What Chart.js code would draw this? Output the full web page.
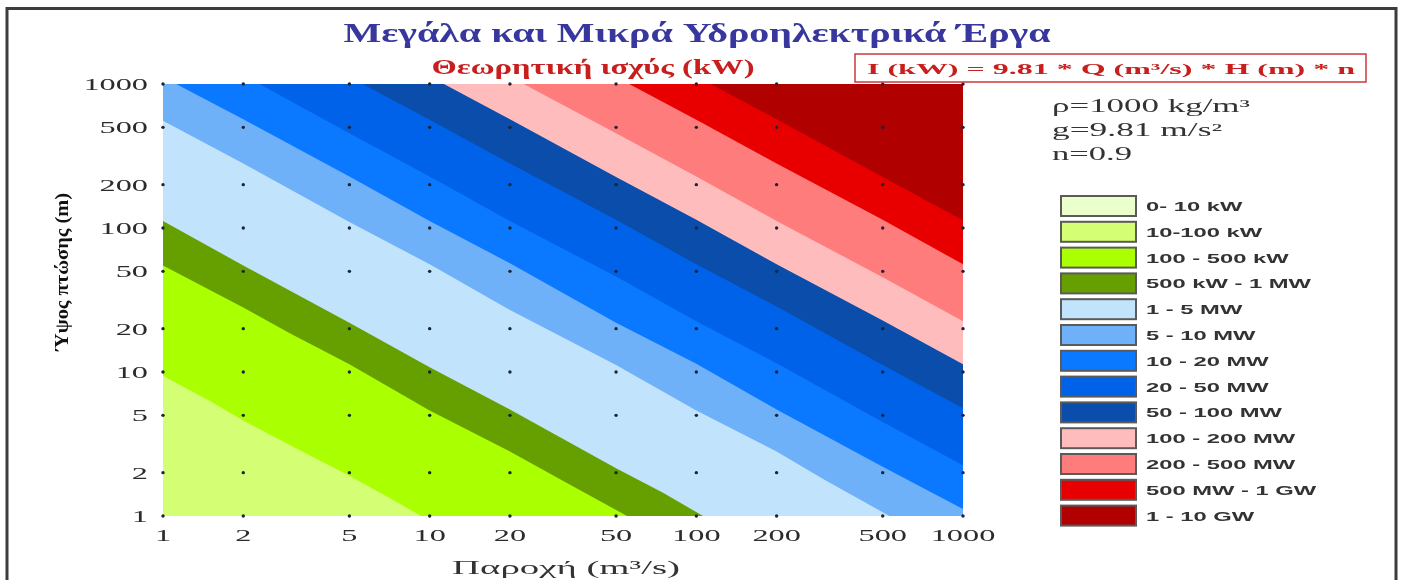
<!DOCTYPE html>
<html>
<head>
<meta charset="utf-8">
<script src="https://cdn.jsdelivr.net/npm/chart.js@4/dist/chart.umd.min.js"></script>
<style>
  html, body { margin: 0; padding: 0; background: #fff; }
</style>
</head>
<body>
<canvas id="myChart" width="1404" height="580"></canvas>
<script>
// axis ticks (log-log)
var qTicks = [1, 2, 5, 10, 20, 50, 100, 200, 500, 1000];
var hTicks = [1, 2, 5, 10, 20, 50, 100, 200, 500, 1000];

var bandLabels = ["0- 10 kW", "10-100 kW", "100 - 500 kW", "500 kW - 1 MW", "1 - 5 MW", "5 - 10 MW",
  "10 - 20 MW", "20 - 50 MW", "50 - 100 MW", "100 - 200 MW", "200 - 500 MW", "500 MW - 1 GW", "1 - 10 GW"];
var bandColors = ["#eaffcc", "#d4fe74", "#aaff00", "#66a000", "#c2e3fc", "#6eb1f8",
  "#0a78ff", "#0062e8", "#0a4dab", "#ffbcbc", "#ff7c7c", "#e80000", "#b00000"];

// contour edges, as [Q (m3/s), H (m)]
var edge100kW = [[1, 9.4], [1.5, 6.3], [2, 4.6], [3, 3.1], [5, 1.9], [7, 1.35], [9.3, 1], [1000, 1]];
var edge500kW = [[1, 55], [2, 28], [3, 18.5], [5, 11.3], [10, 5.4], [20, 2.8], [30, 1.85], [55, 1], [1000, 1]];
var edge1MW = [[1, 112], [2, 55], [5, 22], [10, 10.8], [20, 5.5], [50, 2.15], [75, 1.45], [106, 1], [1000, 1]];
var edge5MW = [[1, 555], [2, 280], [5, 110], [10, 56], [20, 27], [50, 11.2], [100, 5.4], [200, 2.8], [300, 1.8], [530, 1], [1000, 1]];
var edge10MW = [[1.12, 1000], [2, 570], [5, 228], [10, 112], [20, 57], [50, 22], [100, 11.4], [200, 5.5], [500, 2.2], [1000, 1.12]];
var edge20MW = [[2.3, 1000], [5, 455], [10, 228], [20, 112], [50, 46], [100, 22.5], [200, 11.5], [500, 4.5], [1000, 2.25]];
var edge50MW = [[5.6, 1000], [10, 565], [20, 280], [50, 114], [100, 56], [200, 28.5], [500, 11.2], [1000, 5.6]];
var edge100MW = [[11.3, 1000], [20, 570], [50, 226], [100, 114], [200, 56], [500, 22.8], [1000, 11.3]];
var edge200MW = [[22.5, 1000], [50, 455], [100, 228], [200, 112], [500, 45.5], [1000, 22.5]];
var edge500MW = [[56, 1000], [100, 565], [200, 280], [500, 114], [1000, 56]];
var edge1GW = [[113, 1000], [200, 570], [500, 226], [1000, 113]];

var edges = [edge100kW, edge500kW, edge1MW, edge5MW, edge10MW, edge20MW, edge50MW,
  edge100MW, edge200MW, edge500MW, edge1GW];

// one filled line per edge, filled up to the top; later edges paint over earlier ones
var datasets = edges.map(function (e, i) {
  return {
    data: e.map(function (p) { return { x: p[0], y: p[1] }; }),
    backgroundColor: bandColors[i + 2],
    borderColor: "transparent",
    borderWidth: 0,
    pointRadius: 0,
    tension: 0,
    fill: "end",
    order: 100 - i
  };
});

// the dotted grid at each tick crossing
var dots = [];
qTicks.forEach(function (q) {
  hTicks.forEach(function (h) { dots.push({ x: q, y: h }); });
});
datasets.push({
  data: dots,
  showLine: false,
  pointRadius: 1.7,
  pointBorderWidth: 0,
  pointBackgroundColor: "#1b2535",
  fill: false,
  clip: false,
  order: 0
});

function scaledText(ctx, text, x, y, font, color, sx, align) {
  ctx.save();
  ctx.font = font;
  ctx.fillStyle = color;
  ctx.textAlign = align || "left";
  ctx.textBaseline = "alphabetic";
  ctx.translate(x, y);
  ctx.scale(sx, 1);
  ctx.fillText(text, 0, 0);
  ctx.restore();
}

function fitText(ctx, text, x, y, font, color, width, align) {
  ctx.save();
  ctx.font = font;
  var sx = width / ctx.measureText(text).width;
  ctx.restore();
  scaledText(ctx, text, x, y, font, color, sx, align);
}

var decor = {
  id: "decor",
  beforeDatasetsDraw: function (chart) {
    var a = chart.chartArea, ctx = chart.ctx;
    ctx.save();
    ctx.fillStyle = bandColors[1];
    ctx.fillRect(a.left, a.top, a.right - a.left, a.bottom - a.top);
    ctx.restore();
  },
  afterDraw: function (chart) {
    var ctx = chart.ctx;
    var xs = chart.scales.x, ys = chart.scales.y;
    var serif = '"Liberation Serif", "Times New Roman", serif';
    var sans = '"Liberation Sans", Arial, sans-serif';

    // frame
    ctx.save();
    ctx.strokeStyle = "#3c3c3c";
    ctx.lineWidth = 3;
    ctx.strokeRect(7, 8.5, 1389, 600);
    ctx.restore();

    // titles
    fitText(ctx, "Μεγάλα και Μικρά Υδροηλεκτρικά Έργα", 697, 42, "bold 28px " + serif, "#37379d", 707, "center");
    fitText(ctx, "Θεωρητική ισχύς (kW)", 593, 74, "bold 20px " + serif, "#c81e1e", 323, "center");

    // formula box
    ctx.save();
    ctx.strokeStyle = "#c83a3a";
    ctx.lineWidth = 1.5;
    ctx.strokeRect(855, 54, 511, 28);
    ctx.restore();
    fitText(ctx, "I (kW) = 9.81 * Q (m³/s) * H (m) * n", 1111, 74, "bold 15px " + serif, "#c81e1e", 488, "center");

    // constants
    fitText(ctx, "ρ=1000 kg/m³", 1052, 112, "18px " + serif, "#333", 198, "left");
    fitText(ctx, "g=9.81 m/s²", 1052, 136, "18px " + serif, "#333", 170, "left");
    fitText(ctx, "n=0.9", 1052, 160, "18px " + serif, "#333", 80, "left");

    // legend
    bandLabels.forEach(function (lab, i) {
      var top = 196 + i * 25.8;
      ctx.save();
      ctx.fillStyle = bandColors[i];
      ctx.fillRect(1061, top, 75, 20);
      ctx.strokeStyle = "#5a5a5a";
      ctx.lineWidth = 2;
      ctx.strokeRect(1061, top, 75, 20);
      ctx.restore();
      scaledText(ctx, lab, 1146, top + 15, "bold 12.5px " + sans, "#333", 1.9, "left");
    });

    // tick labels through the scales
    qTicks.forEach(function (v) {
      scaledText(ctx, String(v), xs.getPixelForValue(v), 541, "17px " + serif, "#2b2b2b", 1.9, "center");
    });
    hTicks.forEach(function (v) {
      scaledText(ctx, String(v), 148, ys.getPixelForValue(v) + 6, "17px " + serif, "#2b2b2b", 1.9, "right");
    });

    // axis titles
    fitText(ctx, "Παροχή (m³/s)", 566, 574, "19px " + serif, "#333", 228, "center");
    ctx.save();
    ctx.translate(68, 272);
    ctx.rotate(-Math.PI / 2);
    fitText(ctx, "Ύψος πτώσης (m)", 0, 0, "bold 19px " + serif, "#111", 158, "center");
    ctx.restore();
  }
};

var ctx = document.getElementById("myChart").getContext("2d");

var myChart = new Chart(ctx, {
  type: "line",
  data: { datasets: datasets },
  options: {
    responsive: false,
    animation: false,
    events: [],
    layout: { padding: { top: 84, right: 441, left: 0, bottom: 0 } },
    scales: {
      x: {
        type: "logarithmic",
        min: 1,
        max: 1000,
        ticks: { display: false },
        grid: { display: false },
        border: { display: false },
        afterFit: function (s) { s.height = 64; }
      },
      y: {
        type: "logarithmic",
        min: 1,
        max: 1000,
        ticks: { display: false },
        grid: { display: false },
        border: { display: false },
        afterFit: function (s) { s.width = 163; }
      }
    },
    plugins: {
      legend: { display: false },
      tooltip: { enabled: false }
    }
  },
  plugins: [decor]
});
</script>
</body>
</html>
